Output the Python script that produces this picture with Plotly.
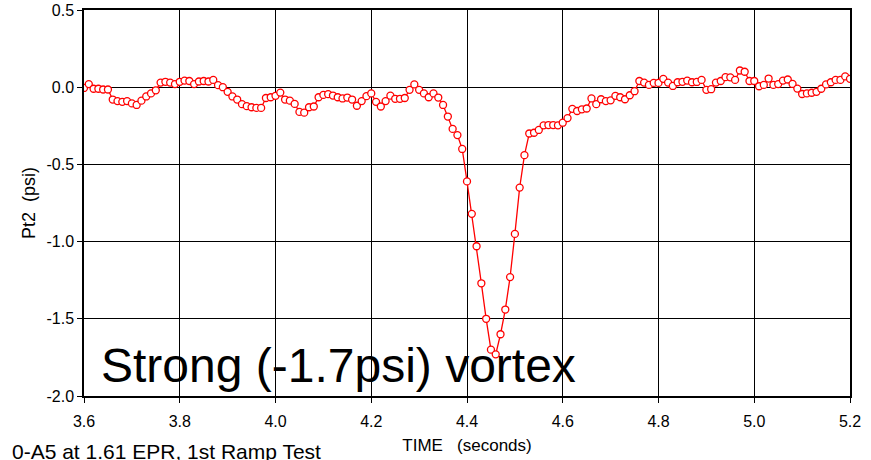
import plotly.graph_objects as go

time_s = [
    3.60, 3.61, 3.62, 3.63, 3.64, 3.65, 3.66, 3.67, 3.68, 3.69,
    3.70, 3.71, 3.72, 3.73, 3.74, 3.75, 3.76, 3.77, 3.78, 3.79,
    3.80, 3.81, 3.82, 3.83, 3.84, 3.85, 3.86, 3.87, 3.88, 3.89,
    3.90, 3.91, 3.92, 3.93, 3.94, 3.95, 3.96, 3.97, 3.98, 3.99,
    4.00, 4.01, 4.02, 4.03, 4.04, 4.05, 4.06, 4.07, 4.08, 4.09,
    4.10, 4.11, 4.12, 4.13, 4.14, 4.15, 4.16, 4.17, 4.18, 4.19,
    4.20, 4.21, 4.22, 4.23, 4.24, 4.25, 4.26, 4.27, 4.28, 4.29,
    4.30, 4.31, 4.32, 4.33, 4.34, 4.35, 4.36, 4.37, 4.38, 4.39,
    4.40, 4.41, 4.42, 4.43, 4.44, 4.45, 4.46, 4.47, 4.48, 4.49,
    4.50, 4.51, 4.52, 4.53, 4.54, 4.55, 4.56, 4.57, 4.58, 4.59,
    4.60, 4.61, 4.62, 4.63, 4.64, 4.65, 4.66, 4.67, 4.68, 4.69,
    4.70, 4.71, 4.72, 4.73, 4.74, 4.75, 4.76, 4.77, 4.78, 4.79,
    4.80, 4.81, 4.82, 4.83, 4.84, 4.85, 4.86, 4.87, 4.88, 4.89,
    4.90, 4.91, 4.92, 4.93, 4.94, 4.95, 4.96, 4.97, 4.98, 4.99,
    5.00, 5.01, 5.02, 5.03, 5.04, 5.05, 5.06, 5.07, 5.08, 5.09,
    5.10, 5.11, 5.12, 5.13, 5.14, 5.15, 5.16, 5.17, 5.18, 5.19,
    5.20,
]

pt2_psi = [
    -0.005, 0.02, -0.01, -0.01, -0.015, -0.015, -0.08, -0.09, -0.095, -0.09,
    -0.105, -0.115, -0.087, -0.06, -0.04, -0.02, 0.03, 0.035, 0.03, 0.02,
    0.035, 0.043, 0.04, 0.02, 0.037, 0.04, 0.037, 0.047, 0.013, 0.0,
    -0.03, -0.06, -0.08, -0.11, -0.123, -0.13, -0.134, -0.134, -0.07, -0.065,
    -0.056, -0.035, -0.08, -0.087, -0.108, -0.16, -0.165, -0.13, -0.125, -0.065,
    -0.05, -0.045, -0.054, -0.065, -0.073, -0.067, -0.08, -0.12, -0.09, -0.058,
    -0.04, -0.095, -0.125, -0.09, -0.055, -0.075, -0.075, -0.07, -0.017, 0.018,
    -0.017, -0.04, -0.065, -0.04, -0.067, -0.115, -0.19, -0.27, -0.31, -0.40,
    -0.61, -0.82, -1.03, -1.27, -1.50, -1.70, -1.73, -1.60, -1.44, -1.23,
    -0.95, -0.65, -0.44, -0.30, -0.295, -0.277, -0.247, -0.245, -0.245, -0.247,
    -0.23, -0.20, -0.14, -0.154, -0.143, -0.138, -0.073, -0.11, -0.078, -0.09,
    -0.085, -0.056, -0.065, -0.078, -0.052, -0.026, 0.04, 0.03, 0.015, 0.028,
    0.028, 0.054, 0.03, 0.008, 0.032, 0.035, 0.043, 0.032, 0.034, 0.047,
    -0.017, -0.013, 0.03, 0.04, 0.065, 0.064, 0.047, 0.108, 0.10, 0.04,
    0.04, 0.006, 0.015, 0.056, 0.015, 0.02, 0.043, 0.05, 0.021, -0.009,
    -0.044, -0.04, -0.036, -0.03, -0.01, 0.018, 0.032, 0.047, 0.047, 0.07,
    0.054,
]

x_tick_vals = [3.6, 3.8, 4.0, 4.2, 4.4, 4.6, 4.8, 5.0, 5.2]
x_tick_text = ["3.6", "3.8", "4.0", "4.2", "4.4", "4.6", "4.8", "5.0", "5.2"]
y_tick_vals = [0.5, 0.0, -0.5, -1.0, -1.5, -2.0]
y_tick_text = ["0.5", "0.0", "-0.5", "-1.0", "-1.5", "-2.0"]

FONT = "Liberation Sans, Arial, sans-serif"

fig = go.Figure()
fig.add_trace(go.Scatter(
    x=time_s, y=pt2_psi, mode="lines+markers",
    line=dict(color="#FF0000", width=1.3),
    marker=dict(symbol="circle", size=7, color="white",
                line=dict(color="#FF0000", width=1.3)),
    showlegend=False,
))

fig.update_layout(
    width=871, height=460,
    margin=dict(l=84, r=21, t=10, b=64),
    paper_bgcolor="white", plot_bgcolor="white",
    font=dict(family=FONT, size=16, color="black"),
    xaxis=dict(
        range=[3.6, 5.2], tickvals=x_tick_vals, ticktext=x_tick_text,
        showgrid=True, gridcolor="black", gridwidth=1,
        showline=True, linecolor="black", linewidth=1.5, mirror=True,
        ticks="outside", ticklen=5, tickcolor="black",
        ticklabelstandoff=5,
        zeroline=False, automargin=False,
        title=dict(text="TIME   (seconds)", font=dict(size=17), standoff=10),
    ),
    yaxis=dict(
        range=[-2.0, 0.5], tickvals=y_tick_vals, ticktext=y_tick_text,
        showgrid=True, gridcolor="black", gridwidth=1,
        showline=True, linecolor="black", linewidth=1.5, mirror=True,
        ticks="outside", ticklen=5, tickcolor="black",
        zeroline=False, automargin=False,
        title=dict(text="Pt2  (psi)", font=dict(size=18), standoff=6),
    ),
)

fig.add_annotation(
    text="Strong (-1.7psi) vortex", x=3.632, y=-1.99, xref="x", yref="y",
    xanchor="left", yanchor="bottom", showarrow=False,
    font=dict(family=FONT, size=48, color="black"),
)

fig.add_annotation(
    text="0-A5 at 1.61 EPR, 1st Ramp Test", x=0.3114, y=-0.1425,
    xref="paper", yref="paper", xanchor="right", yanchor="middle",
    showarrow=False, font=dict(family=FONT, size=21, color="black"),
)

fig.write_html("out.html")
